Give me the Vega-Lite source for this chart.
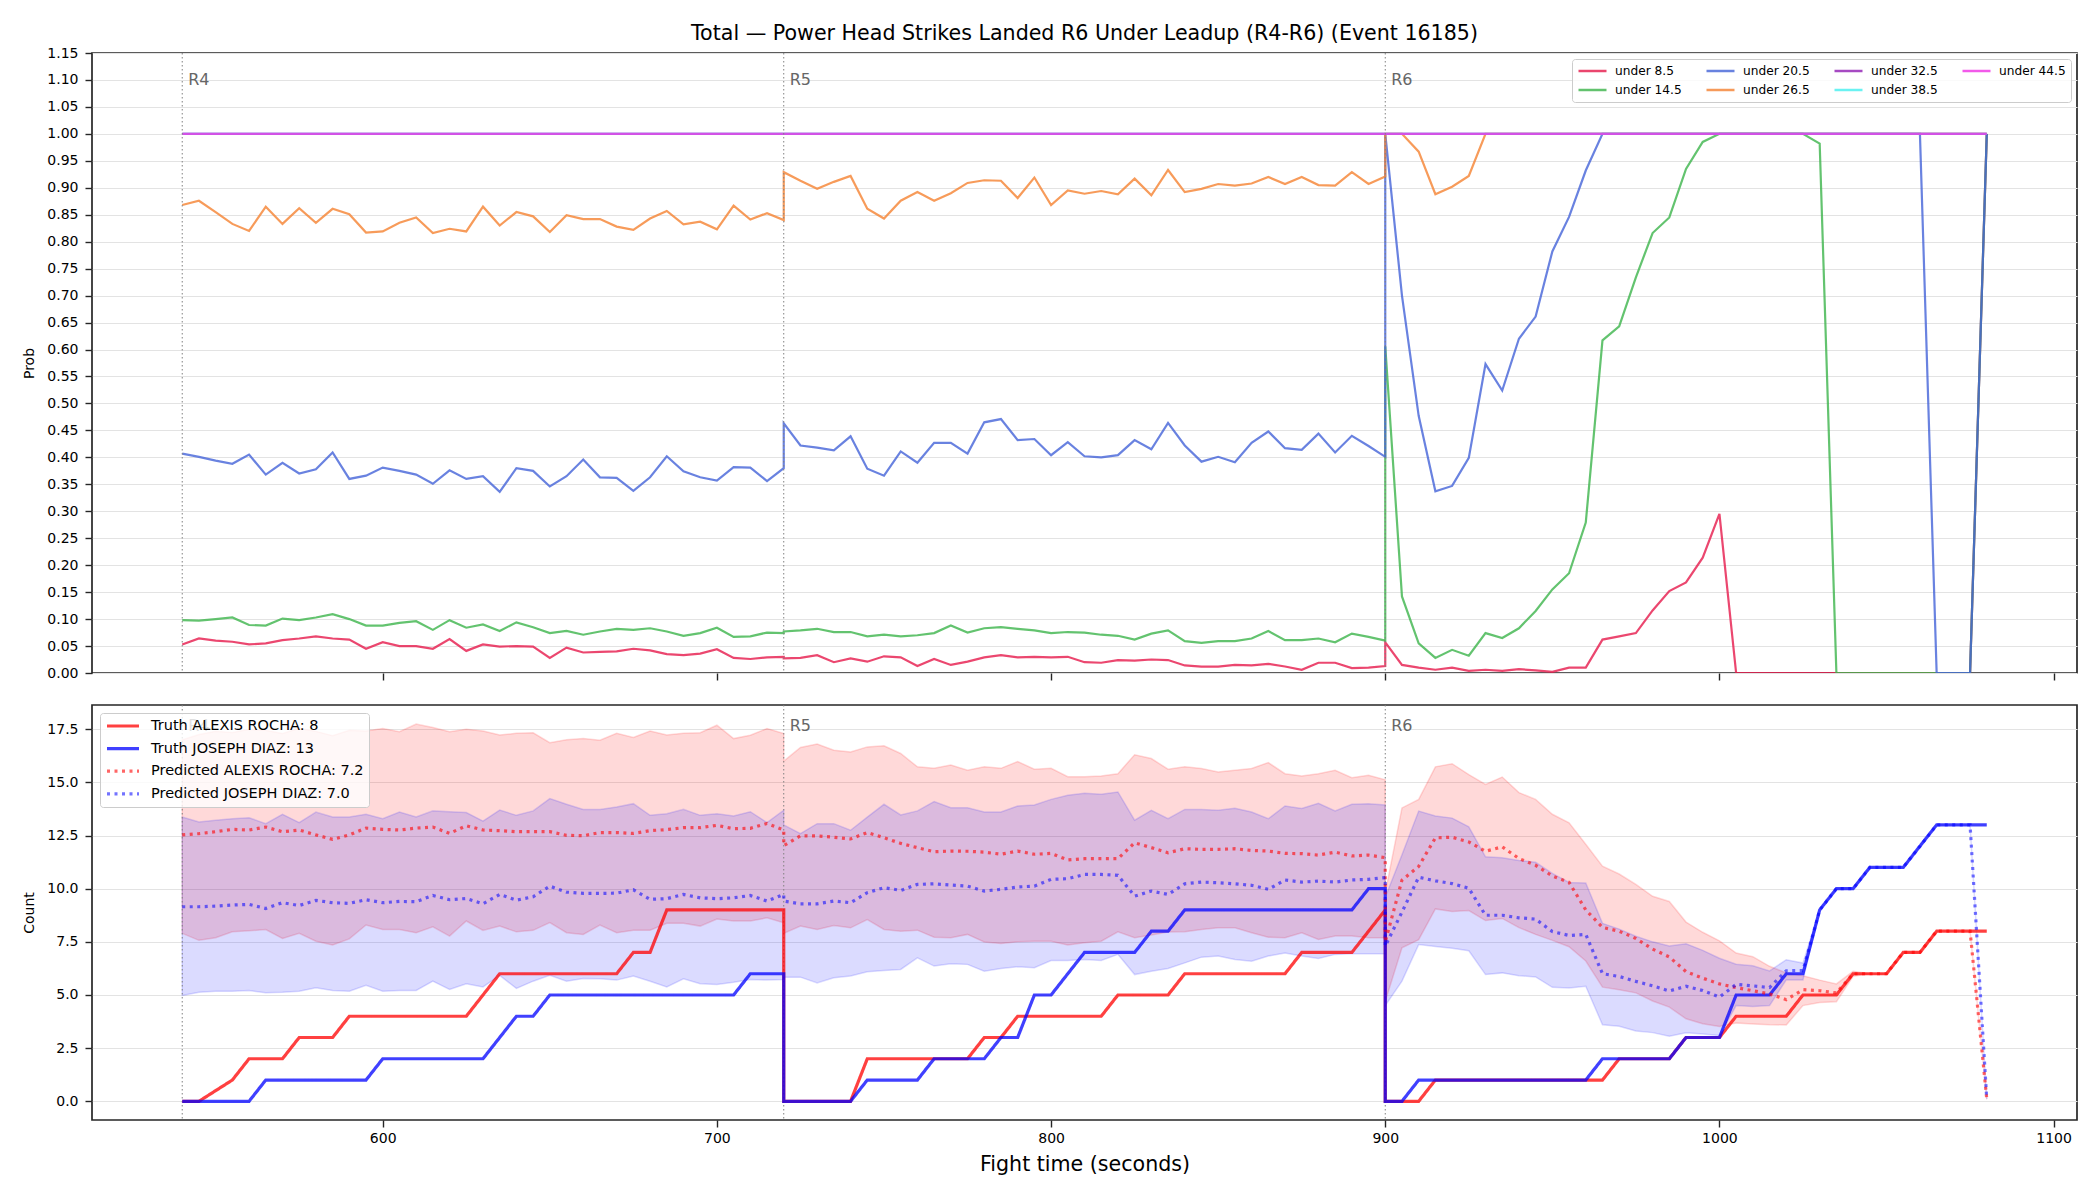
{
  "$schema": "https://vega.github.io/schema/vega-lite/v6.json",
  "background": "white",
  "padding": {"left": 21, "top": 23, "right": 23, "bottom": 20},
  "title": {
    "text": "Total — Power Head Strikes Landed R6 Under Leadup (R4-R6) (Event 16185)",
    "font": "DejaVu Sans", "fontSize": 20.6, "fontWeight": "normal", "color": "#000000",
    "anchor": "middle", "frame": "group", "offset": 1
  },
  "datasets": {
    "rounds": [
      {"t": 540, "r": "R4"},
      {"t": 720, "r": "R5"},
      {"t": 900, "r": "R6"}
    ],
    "prob": [
      {"t":540,"u8":0.053,"u14":0.098,"u20":0.407,"u26":0.868,"u32":1,"u38":1,"u44":1},
      {"t":545,"u8":0.064,"u14":0.097,"u20":0.401,"u26":0.876,"u32":1,"u38":1,"u44":1},
      {"t":550,"u8":0.060,"u14":0.100,"u20":0.394,"u26":0.855,"u32":1,"u38":1,"u44":1},
      {"t":555,"u8":0.058,"u14":0.103,"u20":0.388,"u26":0.833,"u32":1,"u38":1,"u44":1},
      {"t":560,"u8":0.053,"u14":0.089,"u20":0.405,"u26":0.820,"u32":1,"u38":1,"u44":1},
      {"t":565,"u8":0.055,"u14":0.088,"u20":0.368,"u26":0.865,"u32":1,"u38":1,"u44":1},
      {"t":570,"u8":0.061,"u14":0.101,"u20":0.390,"u26":0.833,"u32":1,"u38":1,"u44":1},
      {"t":575,"u8":0.064,"u14":0.098,"u20":0.370,"u26":0.862,"u32":1,"u38":1,"u44":1},
      {"t":580,"u8":0.068,"u14":0.103,"u20":0.378,"u26":0.835,"u32":1,"u38":1,"u44":1},
      {"t":585,"u8":0.064,"u14":0.109,"u20":0.409,"u26":0.861,"u32":1,"u38":1,"u44":1},
      {"t":590,"u8":0.062,"u14":0.100,"u20":0.360,"u26":0.851,"u32":1,"u38":1,"u44":1},
      {"t":595,"u8":0.045,"u14":0.088,"u20":0.366,"u26":0.817,"u32":1,"u38":1,"u44":1},
      {"t":600,"u8":0.057,"u14":0.088,"u20":0.381,"u26":0.819,"u32":1,"u38":1,"u44":1},
      {"t":605,"u8":0.050,"u14":0.093,"u20":0.375,"u26":0.835,"u32":1,"u38":1,"u44":1},
      {"t":610,"u8":0.050,"u14":0.096,"u20":0.368,"u26":0.845,"u32":1,"u38":1,"u44":1},
      {"t":615,"u8":0.045,"u14":0.080,"u20":0.351,"u26":0.816,"u32":1,"u38":1,"u44":1},
      {"t":620,"u8":0.063,"u14":0.098,"u20":0.376,"u26":0.824,"u32":1,"u38":1,"u44":1},
      {"t":625,"u8":0.041,"u14":0.084,"u20":0.360,"u26":0.819,"u32":1,"u38":1,"u44":1},
      {"t":630,"u8":0.053,"u14":0.090,"u20":0.365,"u26":0.865,"u32":1,"u38":1,"u44":1},
      {"t":635,"u8":0.049,"u14":0.078,"u20":0.336,"u26":0.830,"u32":1,"u38":1,"u44":1},
      {"t":640,"u8":0.050,"u14":0.094,"u20":0.380,"u26":0.855,"u32":1,"u38":1,"u44":1},
      {"t":645,"u8":0.049,"u14":0.085,"u20":0.375,"u26":0.847,"u32":1,"u38":1,"u44":1},
      {"t":650,"u8":0.028,"u14":0.074,"u20":0.346,"u26":0.818,"u32":1,"u38":1,"u44":1},
      {"t":655,"u8":0.047,"u14":0.078,"u20":0.365,"u26":0.849,"u32":1,"u38":1,"u44":1},
      {"t":660,"u8":0.038,"u14":0.071,"u20":0.396,"u26":0.842,"u32":1,"u38":1,"u44":1},
      {"t":665,"u8":0.039,"u14":0.077,"u20":0.363,"u26":0.842,"u32":1,"u38":1,"u44":1},
      {"t":670,"u8":0.040,"u14":0.082,"u20":0.362,"u26":0.828,"u32":1,"u38":1,"u44":1},
      {"t":675,"u8":0.045,"u14":0.080,"u20":0.338,"u26":0.822,"u32":1,"u38":1,"u44":1},
      {"t":680,"u8":0.042,"u14":0.083,"u20":0.363,"u26":0.843,"u32":1,"u38":1,"u44":1},
      {"t":685,"u8":0.035,"u14":0.077,"u20":0.402,"u26":0.857,"u32":1,"u38":1,"u44":1},
      {"t":690,"u8":0.033,"u14":0.069,"u20":0.374,"u26":0.832,"u32":1,"u38":1,"u44":1},
      {"t":695,"u8":0.036,"u14":0.074,"u20":0.363,"u26":0.837,"u32":1,"u38":1,"u44":1},
      {"t":700,"u8":0.044,"u14":0.084,"u20":0.357,"u26":0.823,"u32":1,"u38":1,"u44":1},
      {"t":705,"u8":0.028,"u14":0.067,"u20":0.382,"u26":0.867,"u32":1,"u38":1,"u44":1},
      {"t":710,"u8":0.026,"u14":0.068,"u20":0.381,"u26":0.841,"u32":1,"u38":1,"u44":1},
      {"t":715,"u8":0.029,"u14":0.075,"u20":0.356,"u26":0.853,"u32":1,"u38":1,"u44":1},
      {"t":720,"u8":0.030,"u14":0.074,"u20":0.380,"u26":0.840,"u32":1,"u38":1,"u44":1},
      {"t":720,"u8":0.027,"u14":0.077,"u20":0.463,"u26":0.929,"u32":1,"u38":1,"u44":1},
      {"t":725,"u8":0.028,"u14":0.079,"u20":0.422,"u26":0.913,"u32":1,"u38":1,"u44":1},
      {"t":730,"u8":0.033,"u14":0.082,"u20":0.418,"u26":0.898,"u32":1,"u38":1,"u44":1},
      {"t":735,"u8":0.020,"u14":0.076,"u20":0.413,"u26":0.911,"u32":1,"u38":1,"u44":1},
      {"t":740,"u8":0.027,"u14":0.076,"u20":0.439,"u26":0.922,"u32":1,"u38":1,"u44":1},
      {"t":745,"u8":0.021,"u14":0.068,"u20":0.379,"u26":0.861,"u32":1,"u38":1,"u44":1},
      {"t":750,"u8":0.031,"u14":0.071,"u20":0.366,"u26":0.843,"u32":1,"u38":1,"u44":1},
      {"t":755,"u8":0.029,"u14":0.068,"u20":0.411,"u26":0.876,"u32":1,"u38":1,"u44":1},
      {"t":760,"u8":0.013,"u14":0.070,"u20":0.390,"u26":0.892,"u32":1,"u38":1,"u44":1},
      {"t":765,"u8":0.026,"u14":0.074,"u20":0.427,"u26":0.876,"u32":1,"u38":1,"u44":1},
      {"t":770,"u8":0.015,"u14":0.088,"u20":0.427,"u26":0.890,"u32":1,"u38":1,"u44":1},
      {"t":775,"u8":0.021,"u14":0.075,"u20":0.407,"u26":0.909,"u32":1,"u38":1,"u44":1},
      {"t":780,"u8":0.029,"u14":0.083,"u20":0.465,"u26":0.914,"u32":1,"u38":1,"u44":1},
      {"t":785,"u8":0.033,"u14":0.085,"u20":0.471,"u26":0.913,"u32":1,"u38":1,"u44":1},
      {"t":790,"u8":0.029,"u14":0.082,"u20":0.432,"u26":0.881,"u32":1,"u38":1,"u44":1},
      {"t":795,"u8":0.030,"u14":0.079,"u20":0.434,"u26":0.919,"u32":1,"u38":1,"u44":1},
      {"t":800,"u8":0.029,"u14":0.074,"u20":0.404,"u26":0.868,"u32":1,"u38":1,"u44":1},
      {"t":805,"u8":0.030,"u14":0.076,"u20":0.428,"u26":0.895,"u32":1,"u38":1,"u44":1},
      {"t":810,"u8":0.020,"u14":0.075,"u20":0.402,"u26":0.889,"u32":1,"u38":1,"u44":1},
      {"t":815,"u8":0.019,"u14":0.071,"u20":0.400,"u26":0.894,"u32":1,"u38":1,"u44":1},
      {"t":820,"u8":0.024,"u14":0.069,"u20":0.404,"u26":0.888,"u32":1,"u38":1,"u44":1},
      {"t":825,"u8":0.023,"u14":0.062,"u20":0.432,"u26":0.917,"u32":1,"u38":1,"u44":1},
      {"t":830,"u8":0.025,"u14":0.073,"u20":0.415,"u26":0.886,"u32":1,"u38":1,"u44":1},
      {"t":835,"u8":0.024,"u14":0.079,"u20":0.464,"u26":0.933,"u32":1,"u38":1,"u44":1},
      {"t":840,"u8":0.014,"u14":0.059,"u20":0.422,"u26":0.892,"u32":1,"u38":1,"u44":1},
      {"t":845,"u8":0.012,"u14":0.056,"u20":0.392,"u26":0.898,"u32":1,"u38":1,"u44":1},
      {"t":850,"u8":0.012,"u14":0.059,"u20":0.401,"u26":0.907,"u32":1,"u38":1,"u44":1},
      {"t":855,"u8":0.015,"u14":0.059,"u20":0.391,"u26":0.904,"u32":1,"u38":1,"u44":1},
      {"t":860,"u8":0.014,"u14":0.064,"u20":0.427,"u26":0.908,"u32":1,"u38":1,"u44":1},
      {"t":865,"u8":0.017,"u14":0.078,"u20":0.448,"u26":0.920,"u32":1,"u38":1,"u44":1},
      {"t":870,"u8":0.012,"u14":0.061,"u20":0.417,"u26":0.907,"u32":1,"u38":1,"u44":1},
      {"t":875,"u8":0.006,"u14":0.061,"u20":0.414,"u26":0.920,"u32":1,"u38":1,"u44":1},
      {"t":880,"u8":0.019,"u14":0.064,"u20":0.444,"u26":0.905,"u32":1,"u38":1,"u44":1},
      {"t":885,"u8":0.019,"u14":0.057,"u20":0.409,"u26":0.904,"u32":1,"u38":1,"u44":1},
      {"t":890,"u8":0.009,"u14":0.073,"u20":0.440,"u26":0.929,"u32":1,"u38":1,"u44":1},
      {"t":895,"u8":0.010,"u14":0.067,"u20":0.421,"u26":0.907,"u32":1,"u38":1,"u44":1},
      {"t":900,"u8":0.013,"u14":0.060,"u20":0.401,"u26":0.921,"u32":1,"u38":1,"u44":1},
      {"t":900,"u8":0.057,"u14":0.606,"u20":1.000,"u26":1.000,"u32":1,"u38":1,"u44":1},
      {"t":905,"u8":0.015,"u14":0.142,"u20":0.700,"u26":1.000,"u32":1,"u38":1,"u44":1},
      {"t":910,"u8":0.010,"u14":0.055,"u20":0.477,"u26":0.967,"u32":1,"u38":1,"u44":1},
      {"t":915,"u8":0.006,"u14":0.028,"u20":0.337,"u26":0.888,"u32":1,"u38":1,"u44":1},
      {"t":920,"u8":0.010,"u14":0.043,"u20":0.347,"u26":0.902,"u32":1,"u38":1,"u44":1},
      {"t":925,"u8":0.004,"u14":0.032,"u20":0.399,"u26":0.922,"u32":1,"u38":1,"u44":1},
      {"t":930,"u8":0.006,"u14":0.074,"u20":0.573,"u26":1.000,"u32":1,"u38":1,"u44":1},
      {"t":935,"u8":0.004,"u14":0.065,"u20":0.524,"u26":1.000,"u32":1,"u38":1,"u44":1},
      {"t":940,"u8":0.007,"u14":0.083,"u20":0.620,"u26":1.000,"u32":1,"u38":1,"u44":1},
      {"t":945,"u8":0.005,"u14":0.115,"u20":0.661,"u26":1.000,"u32":1,"u38":1,"u44":1},
      {"t":950,"u8":0.002,"u14":0.155,"u20":0.782,"u26":1.000,"u32":1,"u38":1,"u44":1},
      {"t":955,"u8":0.010,"u14":0.185,"u20":0.846,"u26":1.000,"u32":1,"u38":1,"u44":1},
      {"t":960,"u8":0.010,"u14":0.279,"u20":0.932,"u26":1.000,"u32":1,"u38":1,"u44":1},
      {"t":965,"u8":0.062,"u14":0.617,"u20":1.000,"u26":1.000,"u32":1,"u38":1,"u44":1},
      {"t":970,"u8":0.068,"u14":0.643,"u20":1.000,"u26":1.000,"u32":1,"u38":1,"u44":1},
      {"t":975,"u8":0.074,"u14":0.734,"u20":1.000,"u26":1.000,"u32":1,"u38":1,"u44":1},
      {"t":980,"u8":0.116,"u14":0.816,"u20":1.000,"u26":1.000,"u32":1,"u38":1,"u44":1},
      {"t":985,"u8":0.152,"u14":0.845,"u20":1.000,"u26":1.000,"u32":1,"u38":1,"u44":1},
      {"t":990,"u8":0.168,"u14":0.935,"u20":1.000,"u26":1.000,"u32":1,"u38":1,"u44":1},
      {"t":995,"u8":0.214,"u14":0.985,"u20":1.000,"u26":1.000,"u32":1,"u38":1,"u44":1},
      {"t":1000,"u8":0.295,"u14":1.000,"u20":1.000,"u26":1.000,"u32":1,"u38":1,"u44":1},
      {"t":1005,"u8":0,"u14":1.000,"u20":1.000,"u26":1.000,"u32":1,"u38":1,"u44":1},
      {"t":1010,"u8":0,"u14":1.000,"u20":1.000,"u26":1.000,"u32":1,"u38":1,"u44":1},
      {"t":1015,"u8":0,"u14":1.000,"u20":1.000,"u26":1.000,"u32":1,"u38":1,"u44":1},
      {"t":1020,"u8":0,"u14":1.000,"u20":1.000,"u26":1.000,"u32":1,"u38":1,"u44":1},
      {"t":1025,"u8":0,"u14":1.000,"u20":1.000,"u26":1.000,"u32":1,"u38":1,"u44":1},
      {"t":1030,"u8":0,"u14":0.982,"u20":1.000,"u26":1.000,"u32":1,"u38":1,"u44":1},
      {"t":1035,"u8":0,"u14":0,"u20":1.000,"u26":1.000,"u32":1,"u38":1,"u44":1},
      {"t":1040,"u8":0,"u14":0,"u20":1.000,"u26":1.000,"u32":1,"u38":1,"u44":1},
      {"t":1045,"u8":0,"u14":0,"u20":1.000,"u26":1.000,"u32":1,"u38":1,"u44":1},
      {"t":1050,"u8":0,"u14":0,"u20":1.000,"u26":1.000,"u32":1,"u38":1,"u44":1},
      {"t":1055,"u8":0,"u14":0,"u20":1.000,"u26":1.000,"u32":1,"u38":1,"u44":1},
      {"t":1060,"u8":0,"u14":0,"u20":1.000,"u26":1.000,"u32":1,"u38":1,"u44":1},
      {"t":1065,"u8":0,"u14":0,"u20":0,"u26":1.000,"u32":1,"u38":1,"u44":1},
      {"t":1070,"u8":0,"u14":0,"u20":0,"u26":1.000,"u32":1,"u38":1,"u44":1},
      {"t":1075,"u8":0,"u14":0,"u20":0,"u26":1.000,"u32":1,"u38":1,"u44":1},
      {"t":1080,"u8":1,"u14":1,"u20":1,"u26":1.000,"u32":1,"u38":1,"u44":1}
    ],
    "count": [
      {"t":540,"rocha_hi":17.0,"rocha_lo":7.9,"diaz_hi":13.37,"diaz_lo":4.98,"rocha_pred":12.53,"diaz_pred":9.15,"rocha_truth":0,"diaz_truth":0},
      {"t":545,"rocha_hi":17.25,"rocha_lo":7.57,"diaz_hi":13.14,"diaz_lo":5.13,"rocha_pred":12.59,"diaz_pred":9.15,"rocha_truth":0,"diaz_truth":0},
      {"t":550,"rocha_hi":17.4,"rocha_lo":7.69,"diaz_hi":13.22,"diaz_lo":5.18,"rocha_pred":12.68,"diaz_pred":9.18,"rocha_truth":null,"diaz_truth":0},
      {"t":555,"rocha_hi":17.35,"rocha_lo":7.97,"diaz_hi":13.29,"diaz_lo":5.18,"rocha_pred":12.79,"diaz_pred":9.23,"rocha_truth":1,"diaz_truth":0},
      {"t":560,"rocha_hi":17.5,"rocha_lo":8.02,"diaz_hi":13.34,"diaz_lo":5.21,"rocha_pred":12.76,"diaz_pred":9.26,"rocha_truth":2,"diaz_truth":0},
      {"t":565,"rocha_hi":17.45,"rocha_lo":8.08,"diaz_hi":13.06,"diaz_lo":5.1,"rocha_pred":12.9,"diaz_pred":9.07,"rocha_truth":2,"diaz_truth":1},
      {"t":570,"rocha_hi":17.3,"rocha_lo":7.66,"diaz_hi":13.5,"diaz_lo":5.13,"rocha_pred":12.68,"diaz_pred":9.34,"rocha_truth":2,"diaz_truth":1},
      {"t":575,"rocha_hi":17.55,"rocha_lo":7.9,"diaz_hi":13.11,"diaz_lo":5.18,"rocha_pred":12.76,"diaz_pred":9.21,"rocha_truth":3,"diaz_truth":1},
      {"t":580,"rocha_hi":17.4,"rocha_lo":7.53,"diaz_hi":13.6,"diaz_lo":5.34,"rocha_pred":12.53,"diaz_pred":9.45,"rocha_truth":3,"diaz_truth":1},
      {"t":585,"rocha_hi":17.2,"rocha_lo":7.35,"diaz_hi":13.37,"diaz_lo":5.21,"rocha_pred":12.32,"diaz_pred":9.34,"rocha_truth":3,"diaz_truth":1},
      {"t":590,"rocha_hi":17.45,"rocha_lo":7.64,"diaz_hi":13.37,"diaz_lo":5.18,"rocha_pred":12.53,"diaz_pred":9.31,"rocha_truth":4,"diaz_truth":1},
      {"t":595,"rocha_hi":17.42,"rocha_lo":8.29,"diaz_hi":13.5,"diaz_lo":5.46,"rocha_pred":12.85,"diaz_pred":9.48,"rocha_truth":4,"diaz_truth":1},
      {"t":600,"rocha_hi":17.53,"rocha_lo":8.08,"diaz_hi":13.29,"diaz_lo":5.18,"rocha_pred":12.79,"diaz_pred":9.34,"rocha_truth":4,"diaz_truth":2},
      {"t":605,"rocha_hi":17.38,"rocha_lo":8.08,"diaz_hi":13.61,"diaz_lo":5.21,"rocha_pred":12.76,"diaz_pred":9.4,"rocha_truth":4,"diaz_truth":2},
      {"t":610,"rocha_hi":17.74,"rocha_lo":7.93,"diaz_hi":13.37,"diaz_lo":5.21,"rocha_pred":12.85,"diaz_pred":9.39,"rocha_truth":4,"diaz_truth":2},
      {"t":615,"rocha_hi":17.58,"rocha_lo":8.21,"diaz_hi":13.66,"diaz_lo":5.65,"rocha_pred":12.9,"diaz_pred":9.68,"rocha_truth":4,"diaz_truth":2},
      {"t":620,"rocha_hi":17.38,"rocha_lo":7.77,"diaz_hi":13.62,"diaz_lo":5.26,"rocha_pred":12.6,"diaz_pred":9.48,"rocha_truth":4,"diaz_truth":2},
      {"t":625,"rocha_hi":17.5,"rocha_lo":8.48,"diaz_hi":13.58,"diaz_lo":5.53,"rocha_pred":12.96,"diaz_pred":9.54,"rocha_truth":4,"diaz_truth":2},
      {"t":630,"rocha_hi":17.42,"rocha_lo":8.04,"diaz_hi":13.18,"diaz_lo":5.38,"rocha_pred":12.76,"diaz_pred":9.29,"rocha_truth":5,"diaz_truth":2},
      {"t":635,"rocha_hi":17.23,"rocha_lo":8.24,"diaz_hi":13.7,"diaz_lo":5.92,"rocha_pred":12.73,"diaz_pred":9.73,"rocha_truth":6,"diaz_truth":3},
      {"t":640,"rocha_hi":17.31,"rocha_lo":7.97,"diaz_hi":13.45,"diaz_lo":5.31,"rocha_pred":12.68,"diaz_pred":9.46,"rocha_truth":6,"diaz_truth":4},
      {"t":645,"rocha_hi":17.33,"rocha_lo":8.04,"diaz_hi":13.66,"diaz_lo":5.65,"rocha_pred":12.68,"diaz_pred":9.62,"rocha_truth":6,"diaz_truth":4},
      {"t":650,"rocha_hi":16.87,"rocha_lo":8.41,"diaz_hi":14.24,"diaz_lo":5.93,"rocha_pred":12.68,"diaz_pred":10.12,"rocha_truth":6,"diaz_truth":5},
      {"t":655,"rocha_hi":17.0,"rocha_lo":7.93,"diaz_hi":13.97,"diaz_lo":5.65,"rocha_pred":12.51,"diaz_pred":9.84,"rocha_truth":6,"diaz_truth":5},
      {"t":660,"rocha_hi":17.06,"rocha_lo":7.85,"diaz_hi":13.73,"diaz_lo":5.78,"rocha_pred":12.49,"diaz_pred":9.78,"rocha_truth":6,"diaz_truth":5},
      {"t":665,"rocha_hi":16.98,"rocha_lo":8.29,"diaz_hi":13.73,"diaz_lo":5.76,"rocha_pred":12.64,"diaz_pred":9.78,"rocha_truth":6,"diaz_truth":5},
      {"t":670,"rocha_hi":17.31,"rocha_lo":7.93,"diaz_hi":13.84,"diaz_lo":5.7,"rocha_pred":12.64,"diaz_pred":9.79,"rocha_truth":6,"diaz_truth":5},
      {"t":675,"rocha_hi":17.11,"rocha_lo":8.05,"diaz_hi":14.0,"diaz_lo":5.89,"rocha_pred":12.6,"diaz_pred":9.95,"rocha_truth":7,"diaz_truth":5},
      {"t":680,"rocha_hi":17.42,"rocha_lo":8.05,"diaz_hi":13.45,"diaz_lo":5.65,"rocha_pred":12.73,"diaz_pred":9.5,"rocha_truth":7,"diaz_truth":5},
      {"t":685,"rocha_hi":17.23,"rocha_lo":8.37,"diaz_hi":13.53,"diaz_lo":5.38,"rocha_pred":12.78,"diaz_pred":9.53,"rocha_truth":9,"diaz_truth":5},
      {"t":690,"rocha_hi":17.31,"rocha_lo":8.37,"diaz_hi":13.73,"diaz_lo":5.76,"rocha_pred":12.87,"diaz_pred":9.73,"rocha_truth":9,"diaz_truth":5},
      {"t":695,"rocha_hi":17.34,"rocha_lo":8.24,"diaz_hi":13.45,"diaz_lo":5.53,"rocha_pred":12.87,"diaz_pred":9.57,"rocha_truth":9,"diaz_truth":5},
      {"t":700,"rocha_hi":17.69,"rocha_lo":8.57,"diaz_hi":13.53,"diaz_lo":5.49,"rocha_pred":12.98,"diaz_pred":9.53,"rocha_truth":9,"diaz_truth":5},
      {"t":705,"rocha_hi":17.06,"rocha_lo":8.48,"diaz_hi":13.42,"diaz_lo":5.6,"rocha_pred":12.82,"diaz_pred":9.57,"rocha_truth":9,"diaz_truth":5},
      {"t":710,"rocha_hi":17.22,"rocha_lo":8.48,"diaz_hi":13.62,"diaz_lo":5.73,"rocha_pred":12.84,"diaz_pred":9.68,"rocha_truth":9,"diaz_truth":6},
      {"t":715,"rocha_hi":17.53,"rocha_lo":8.63,"diaz_hi":13.11,"diaz_lo":5.7,"rocha_pred":13.07,"diaz_pred":9.42,"rocha_truth":9,"diaz_truth":6},
      {"t":720,"rocha_hi":17.3,"rocha_lo":8.4,"diaz_hi":13.69,"diaz_lo":5.73,"rocha_pred":12.76,"diaz_pred":9.73,"rocha_truth":9,"diaz_truth":6},
      {"t":720,"rocha_hi":16.0,"rocha_lo":7.9,"diaz_hi":13.0,"diaz_lo":5.84,"rocha_pred":12.02,"diaz_pred":9.42,"rocha_truth":0,"diaz_truth":0},
      {"t":725,"rocha_hi":16.64,"rocha_lo":8.24,"diaz_hi":12.59,"diaz_lo":5.84,"rocha_pred":12.49,"diaz_pred":9.29,"rocha_truth":0,"diaz_truth":0},
      {"t":730,"rocha_hi":16.8,"rocha_lo":8.08,"diaz_hi":13.06,"diaz_lo":5.57,"rocha_pred":12.48,"diaz_pred":9.29,"rocha_truth":0,"diaz_truth":0},
      {"t":735,"rocha_hi":16.51,"rocha_lo":8.27,"diaz_hi":13.06,"diaz_lo":5.81,"rocha_pred":12.42,"diaz_pred":9.42,"rocha_truth":0,"diaz_truth":0},
      {"t":740,"rocha_hi":16.43,"rocha_lo":8.16,"diaz_hi":12.75,"diaz_lo":5.89,"rocha_pred":12.34,"diaz_pred":9.34,"rocha_truth":0,"diaz_truth":0},
      {"t":745,"rocha_hi":16.67,"rocha_lo":8.55,"diaz_hi":13.37,"diaz_lo":6.09,"rocha_pred":12.64,"diaz_pred":9.81,"rocha_truth":2,"diaz_truth":1},
      {"t":750,"rocha_hi":16.72,"rocha_lo":8.08,"diaz_hi":13.97,"diaz_lo":6.15,"rocha_pred":12.4,"diaz_pred":10.05,"rocha_truth":2,"diaz_truth":1},
      {"t":755,"rocha_hi":16.36,"rocha_lo":8.0,"diaz_hi":13.47,"diaz_lo":6.2,"rocha_pred":12.13,"diaz_pred":9.92,"rocha_truth":2,"diaz_truth":1},
      {"t":760,"rocha_hi":15.73,"rocha_lo":8.05,"diaz_hi":13.66,"diaz_lo":6.75,"rocha_pred":11.93,"diaz_pred":10.2,"rocha_truth":2,"diaz_truth":1},
      {"t":765,"rocha_hi":15.66,"rocha_lo":7.72,"diaz_hi":14.1,"diaz_lo":6.36,"rocha_pred":11.74,"diaz_pred":10.23,"rocha_truth":2,"diaz_truth":2},
      {"t":770,"rocha_hi":15.82,"rocha_lo":7.69,"diaz_hi":13.81,"diaz_lo":6.47,"rocha_pred":11.77,"diaz_pred":10.17,"rocha_truth":2,"diaz_truth":2},
      {"t":775,"rocha_hi":15.57,"rocha_lo":7.85,"diaz_hi":13.81,"diaz_lo":6.44,"rocha_pred":11.76,"diaz_pred":10.12,"rocha_truth":2,"diaz_truth":2},
      {"t":780,"rocha_hi":15.73,"rocha_lo":7.49,"diaz_hi":13.61,"diaz_lo":6.12,"rocha_pred":11.72,"diaz_pred":9.89,"rocha_truth":3,"diaz_truth":2},
      {"t":785,"rocha_hi":15.66,"rocha_lo":7.42,"diaz_hi":13.61,"diaz_lo":6.25,"rocha_pred":11.62,"diaz_pred":9.97,"rocha_truth":3,"diaz_truth":3},
      {"t":790,"rocha_hi":15.98,"rocha_lo":7.5,"diaz_hi":13.89,"diaz_lo":6.33,"rocha_pred":11.77,"diaz_pred":10.08,"rocha_truth":4,"diaz_truth":3},
      {"t":795,"rocha_hi":15.62,"rocha_lo":7.53,"diaz_hi":13.94,"diaz_lo":6.28,"rocha_pred":11.62,"diaz_pred":10.12,"rocha_truth":4,"diaz_truth":5},
      {"t":800,"rocha_hi":15.66,"rocha_lo":7.53,"diaz_hi":14.2,"diaz_lo":6.62,"rocha_pred":11.66,"diaz_pred":10.44,"rocha_truth":4,"diaz_truth":5},
      {"t":805,"rocha_hi":15.27,"rocha_lo":7.35,"diaz_hi":14.39,"diaz_lo":6.62,"rocha_pred":11.35,"diaz_pred":10.47,"rocha_truth":4,"diaz_truth":6},
      {"t":810,"rocha_hi":15.27,"rocha_lo":7.46,"diaz_hi":14.49,"diaz_lo":6.67,"rocha_pred":11.41,"diaz_pred":10.67,"rocha_truth":4,"diaz_truth":7},
      {"t":815,"rocha_hi":15.3,"rocha_lo":7.53,"diaz_hi":14.44,"diaz_lo":6.62,"rocha_pred":11.41,"diaz_pred":10.67,"rocha_truth":4,"diaz_truth":7},
      {"t":820,"rocha_hi":15.41,"rocha_lo":7.97,"diaz_hi":14.55,"diaz_lo":6.91,"rocha_pred":11.41,"diaz_pred":10.63,"rocha_truth":5,"diaz_truth":7},
      {"t":825,"rocha_hi":16.3,"rocha_lo":7.69,"diaz_hi":13.22,"diaz_lo":5.96,"rocha_pred":12.16,"diaz_pred":9.65,"rocha_truth":5,"diaz_truth":7},
      {"t":830,"rocha_hi":16.12,"rocha_lo":7.82,"diaz_hi":13.69,"diaz_lo":6.12,"rocha_pred":11.93,"diaz_pred":9.89,"rocha_truth":5,"diaz_truth":8},
      {"t":835,"rocha_hi":15.62,"rocha_lo":7.96,"diaz_hi":13.29,"diaz_lo":6.25,"rocha_pred":11.69,"diaz_pred":9.73,"rocha_truth":5,"diaz_truth":8},
      {"t":840,"rocha_hi":15.73,"rocha_lo":7.97,"diaz_hi":13.73,"diaz_lo":6.51,"rocha_pred":11.88,"diaz_pred":10.23,"rocha_truth":6,"diaz_truth":9},
      {"t":845,"rocha_hi":15.65,"rocha_lo":8.08,"diaz_hi":13.73,"diaz_lo":6.78,"rocha_pred":11.85,"diaz_pred":10.31,"rocha_truth":6,"diaz_truth":9},
      {"t":850,"rocha_hi":15.49,"rocha_lo":8.16,"diaz_hi":13.69,"diaz_lo":6.83,"rocha_pred":11.85,"diaz_pred":10.28,"rocha_truth":6,"diaz_truth":9},
      {"t":855,"rocha_hi":15.57,"rocha_lo":8.16,"diaz_hi":13.78,"diaz_lo":6.67,"rocha_pred":11.88,"diaz_pred":10.23,"rocha_truth":6,"diaz_truth":9},
      {"t":860,"rocha_hi":15.65,"rocha_lo":7.93,"diaz_hi":13.61,"diaz_lo":6.59,"rocha_pred":11.8,"diaz_pred":10.16,"rocha_truth":6,"diaz_truth":9},
      {"t":865,"rocha_hi":15.93,"rocha_lo":7.72,"diaz_hi":13.29,"diaz_lo":6.83,"rocha_pred":11.77,"diaz_pred":9.97,"rocha_truth":6,"diaz_truth":9},
      {"t":870,"rocha_hi":15.41,"rocha_lo":7.69,"diaz_hi":13.89,"diaz_lo":6.98,"rocha_pred":11.66,"diaz_pred":10.41,"rocha_truth":6,"diaz_truth":9},
      {"t":875,"rocha_hi":15.3,"rocha_lo":7.93,"diaz_hi":13.77,"diaz_lo":6.83,"rocha_pred":11.65,"diaz_pred":10.31,"rocha_truth":7,"diaz_truth":9},
      {"t":880,"rocha_hi":15.41,"rocha_lo":7.61,"diaz_hi":14.02,"diaz_lo":6.72,"rocha_pred":11.58,"diaz_pred":10.36,"rocha_truth":7,"diaz_truth":9},
      {"t":885,"rocha_hi":15.57,"rocha_lo":7.77,"diaz_hi":13.66,"diaz_lo":6.91,"rocha_pred":11.72,"diaz_pred":10.31,"rocha_truth":7,"diaz_truth":9},
      {"t":890,"rocha_hi":15.22,"rocha_lo":7.77,"diaz_hi":13.97,"diaz_lo":6.94,"rocha_pred":11.54,"diaz_pred":10.41,"rocha_truth":7,"diaz_truth":9},
      {"t":895,"rocha_hi":15.34,"rocha_lo":7.69,"diaz_hi":14.0,"diaz_lo":6.94,"rocha_pred":11.58,"diaz_pred":10.44,"rocha_truth":8,"diaz_truth":10},
      {"t":900,"rocha_hi":15.12,"rocha_lo":7.69,"diaz_hi":13.94,"diaz_lo":6.94,"rocha_pred":11.46,"diaz_pred":10.52,"rocha_truth":9,"diaz_truth":10},
      {"t":900,"rocha_hi":9.8,"rocha_lo":4.7,"diaz_hi":9.6,"diaz_lo":4.5,"rocha_pred":7.5,"diaz_pred":7.3,"rocha_truth":0,"diaz_truth":0},
      {"t":905,"rocha_hi":13.8,"rocha_lo":7.22,"diaz_hi":11.6,"diaz_lo":5.65,"rocha_pred":10.4,"diaz_pred":8.9,"rocha_truth":0,"diaz_truth":0},
      {"t":910,"rocha_hi":14.2,"rocha_lo":7.6,"diaz_hi":13.65,"diaz_lo":7.37,"rocha_pred":11.05,"diaz_pred":10.54,"rocha_truth":0,"diaz_truth":1},
      {"t":915,"rocha_hi":15.73,"rocha_lo":9.05,"diaz_hi":13.42,"diaz_lo":7.28,"rocha_pred":12.39,"diaz_pred":10.37,"rocha_truth":1,"diaz_truth":1},
      {"t":920,"rocha_hi":15.88,"rocha_lo":8.93,"diaz_hi":13.32,"diaz_lo":7.2,"rocha_pred":12.42,"diaz_pred":10.24,"rocha_truth":1,"diaz_truth":1},
      {"t":925,"rocha_hi":15.37,"rocha_lo":8.97,"diaz_hi":12.91,"diaz_lo":7.08,"rocha_pred":12.2,"diaz_pred":10.02,"rocha_truth":1,"diaz_truth":1},
      {"t":930,"rocha_hi":14.9,"rocha_lo":8.5,"diaz_hi":11.5,"diaz_lo":5.96,"rocha_pred":11.76,"diaz_pred":8.75,"rocha_truth":1,"diaz_truth":1},
      {"t":935,"rocha_hi":15.25,"rocha_lo":8.6,"diaz_hi":11.45,"diaz_lo":6.04,"rocha_pred":11.97,"diaz_pred":8.75,"rocha_truth":1,"diaz_truth":1},
      {"t":940,"rocha_hi":14.52,"rocha_lo":8.17,"diaz_hi":11.33,"diaz_lo":5.91,"rocha_pred":11.42,"diaz_pred":8.63,"rocha_truth":1,"diaz_truth":1},
      {"t":945,"rocha_hi":14.2,"rocha_lo":7.85,"diaz_hi":11.24,"diaz_lo":5.85,"rocha_pred":11.1,"diaz_pred":8.57,"rocha_truth":1,"diaz_truth":1},
      {"t":950,"rocha_hi":13.5,"rocha_lo":7.57,"diaz_hi":10.72,"diaz_lo":5.36,"rocha_pred":10.6,"diaz_pred":7.98,"rocha_truth":1,"diaz_truth":1},
      {"t":955,"rocha_hi":13.1,"rocha_lo":7.27,"diaz_hi":10.29,"diaz_lo":5.33,"rocha_pred":10.3,"diaz_pred":7.8,"rocha_truth":1,"diaz_truth":1},
      {"t":960,"rocha_hi":12.09,"rocha_lo":6.6,"diaz_hi":10.27,"diaz_lo":5.41,"rocha_pred":9.0,"diaz_pred":7.85,"rocha_truth":1,"diaz_truth":1},
      {"t":965,"rocha_hi":11.06,"rocha_lo":5.37,"diaz_hi":8.37,"diaz_lo":3.6,"rocha_pred":8.18,"diaz_pred":6.0,"rocha_truth":1,"diaz_truth":2},
      {"t":970,"rocha_hi":10.69,"rocha_lo":5.25,"diaz_hi":8.1,"diaz_lo":3.53,"rocha_pred":8.0,"diaz_pred":5.87,"rocha_truth":2,"diaz_truth":2},
      {"t":975,"rocha_hi":10.2,"rocha_lo":5.1,"diaz_hi":7.76,"diaz_lo":3.31,"rocha_pred":7.66,"diaz_pred":5.64,"rocha_truth":2,"diaz_truth":2},
      {"t":980,"rocha_hi":9.64,"rocha_lo":4.72,"diaz_hi":7.5,"diaz_lo":3.23,"rocha_pred":7.16,"diaz_pred":5.43,"rocha_truth":2,"diaz_truth":2},
      {"t":985,"rocha_hi":9.4,"rocha_lo":4.43,"diaz_hi":7.31,"diaz_lo":3.06,"rocha_pred":6.79,"diaz_pred":5.19,"rocha_truth":2,"diaz_truth":2},
      {"t":990,"rocha_hi":8.43,"rocha_lo":3.88,"diaz_hi":7.41,"diaz_lo":3.22,"rocha_pred":6.1,"diaz_pred":5.41,"rocha_truth":3,"diaz_truth":3},
      {"t":995,"rocha_hi":7.95,"rocha_lo":3.65,"diaz_hi":7.1,"diaz_lo":3.16,"rocha_pred":5.79,"diaz_pred":5.21,"rocha_truth":3,"diaz_truth":3},
      {"t":1000,"rocha_hi":7.55,"rocha_lo":3.52,"diaz_hi":6.73,"diaz_lo":3.1,"rocha_pred":5.52,"diaz_pred":4.9,"rocha_truth":3,"diaz_truth":3},
      {"t":1005,"rocha_hi":6.97,"rocha_lo":3.68,"diaz_hi":6.45,"diaz_lo":4.5,"rocha_pred":5.35,"diaz_pred":5.5,"rocha_truth":4,"diaz_truth":5},
      {"t":1010,"rocha_hi":6.8,"rocha_lo":3.64,"diaz_hi":6.37,"diaz_lo":4.46,"rocha_pred":5.2,"diaz_pred":5.43,"rocha_truth":4,"diaz_truth":5},
      {"t":1015,"rocha_hi":6.35,"rocha_lo":3.6,"diaz_hi":6.13,"diaz_lo":4.5,"rocha_pred":5.05,"diaz_pred":5.35,"rocha_truth":4,"diaz_truth":5},
      {"t":1020,"rocha_hi":6.04,"rocha_lo":3.59,"diaz_hi":6.66,"diaz_lo":5.71,"rocha_pred":4.78,"diaz_pred":6.14,"rocha_truth":4,"diaz_truth":6},
      {"t":1025,"rocha_hi":5.9,"rocha_lo":4.5,"diaz_hi":6.5,"diaz_lo":5.71,"rocha_pred":5.25,"diaz_pred":6.15,"rocha_truth":5,"diaz_truth":6},
      {"t":1030,"rocha_hi":5.7,"rocha_lo":4.65,"diaz_hi":9,"diaz_lo":9,"rocha_pred":5.2,"diaz_pred":9,"rocha_truth":5,"diaz_truth":9},
      {"t":1035,"rocha_hi":5.52,"rocha_lo":4.68,"diaz_hi":10,"diaz_lo":10,"rocha_pred":5.1,"diaz_pred":10,"rocha_truth":5,"diaz_truth":10},
      {"t":1040,"rocha_hi":6.12,"rocha_lo":5.88,"diaz_hi":10,"diaz_lo":10,"rocha_pred":6.0,"diaz_pred":10,"rocha_truth":6,"diaz_truth":10},
      {"t":1045,"rocha_hi":6,"rocha_lo":6,"diaz_hi":11,"diaz_lo":11,"rocha_pred":6,"diaz_pred":11,"rocha_truth":6,"diaz_truth":11},
      {"t":1050,"rocha_hi":6,"rocha_lo":6,"diaz_hi":11,"diaz_lo":11,"rocha_pred":6,"diaz_pred":11,"rocha_truth":6,"diaz_truth":11},
      {"t":1055,"rocha_hi":7,"rocha_lo":7,"diaz_hi":11,"diaz_lo":11,"rocha_pred":7,"diaz_pred":11,"rocha_truth":7,"diaz_truth":11},
      {"t":1060,"rocha_hi":7,"rocha_lo":7,"diaz_hi":12,"diaz_lo":12,"rocha_pred":7,"diaz_pred":12,"rocha_truth":7,"diaz_truth":12},
      {"t":1065,"rocha_hi":8,"rocha_lo":8,"diaz_hi":13,"diaz_lo":13,"rocha_pred":8,"diaz_pred":13,"rocha_truth":8,"diaz_truth":13},
      {"t":1070,"rocha_hi":8,"rocha_lo":8,"diaz_hi":13,"diaz_lo":13,"rocha_pred":8,"diaz_pred":13,"rocha_truth":8,"diaz_truth":13},
      {"t":1075,"rocha_hi":8,"rocha_lo":8,"diaz_hi":13,"diaz_lo":13,"rocha_pred":8,"diaz_pred":13,"rocha_truth":8,"diaz_truth":13},
      {"t":1080,"rocha_hi":0.1,"rocha_lo":0.1,"diaz_hi":0.1,"diaz_lo":0.1,"rocha_pred":0.1,"diaz_pred":0.1,"rocha_truth":8,"diaz_truth":13}
    ]
  },
  "spacing": 32,
  "bounds": "flush",
  "resolve": {
    "scale": {"x": "shared", "y": "independent", "color": "independent", "strokeDash": "independent"},
    "legend": {"color": "independent", "strokeDash": "independent"}
  },
  "vconcat": [
    {
      "width": 1985,
      "height": 620,
      "layer": [
        {
          "data": {"name": "prob"},
          "transform": [{"fold": ["u8", "u14", "u20", "u26", "u32", "u38", "u44"], "as": ["line", "p"]}],
          "mark": {"type": "line", "strokeWidth": 2.2, "opacity": 0.8, "clip": true},
          "encoding": {
            "x": {
              "field": "t", "type": "quantitative", "title": null,
              "scale": {"domain": [513, 1107], "nice": false, "zero": false},
              "axis": {"labels": false, "title": null, "grid": false, "values": [600, 700, 800, 900, 1000, 1100]}
            },
            "y": {
              "field": "p", "type": "quantitative", "title": "Prob",
              "scale": {"domain": [0, 1.15], "nice": false, "zero": false},
              "axis": {
                "title": "Prob", "format": ".2f", "labelOverlap": false, "labelFlush": false, "tickCount": 40,
                "values": [0, 0.05, 0.1, 0.15, 0.2, 0.25, 0.3, 0.35, 0.4, 0.45, 0.5, 0.55, 0.6, 0.65, 0.7, 0.75, 0.8, 0.85, 0.9, 0.95, 1.0, 1.05, 1.1, 1.15]
              }
            },
            "color": {
              "field": "line", "type": "nominal",
              "scale": {
                "domain": ["u8", "u14", "u20", "u26", "u32", "u38", "u44"],
                "range": ["#e6194b", "#3cb44b", "#4363d8", "#f58231", "#911eb4", "#46f0f0", "#f032e6"]
              },
              "legend": {
                "title": null, "orient": "top-right", "offset": 6, "columns": 4, "gridAlign": "all",
                "symbolType": "stroke", "symbolSize": 784, "symbolStrokeWidth": 2.5, "symbolOpacity": 0.8,
                "labelFontSize": 12.2, "labelOffset": 7, "columnPadding": 23, "rowPadding": 5, "clipHeight": 14,
                "padding": 5, "fillColor": "rgba(255,255,255,0.8)", "strokeColor": "#cccccc", "cornerRadius": 3,
                "labelExpr": "'under ' + slice(datum.label, 1) + '.5'"
              }
            }
          }
        },
        {
          "data": {"name": "rounds"},
          "mark": {"type": "rule", "color": "#808080", "strokeWidth": 1, "strokeDash": [1.5, 2.5]},
          "encoding": {"x": {"field": "t", "type": "quantitative", "title": null}}
        },
        {
          "data": {"name": "rounds"},
          "mark": {"type": "text", "align": "left", "baseline": "middle", "dx": 6, "fontSize": 16, "color": "#666666"},
          "encoding": {
            "x": {"field": "t", "type": "quantitative", "title": null},
            "y": {"datum": 1.10},
            "text": {"field": "r"}
          }
        }
      ]
    },
    {
      "width": 1985,
      "height": 415,
      "layer": [
        {
          "data": {"name": "count"},
          "mark": {"type": "area", "fill": "#ff0000", "fillOpacity": 0.15, "stroke": "#ff0000", "strokeOpacity": 0.15, "strokeWidth": 1.5},
          "encoding": {
            "x": {
              "field": "t", "type": "quantitative", "title": "Fight time (seconds)",
              "scale": {"domain": [513, 1107], "nice": false, "zero": false},
              "axis": {"title": "Fight time (seconds)", "titleFontSize": 20.6, "titlePadding": 9, "labelPadding": 4, "grid": false, "format": "d", "values": [600, 700, 800, 900, 1000, 1100]}
            },
            "y": {
              "field": "rocha_lo", "type": "quantitative", "title": "Count",
              "scale": {"domain": [-0.88, 18.64], "nice": false, "zero": false},
              "axis": {"title": "Count", "format": ".1f", "labelOverlap": false, "tickCount": 20, "values": [0, 2.5, 5, 7.5, 10, 12.5, 15, 17.5]}
            },
            "y2": {"field": "rocha_hi"}
          }
        },
        {
          "data": {"name": "count"},
          "mark": {"type": "area", "fill": "#0000ff", "fillOpacity": 0.14, "stroke": "#0000ff", "strokeOpacity": 0.14, "strokeWidth": 1.5},
          "encoding": {
            "x": {"field": "t", "type": "quantitative", "title": "Fight time (seconds)"},
            "y": {"field": "diaz_lo", "type": "quantitative", "title": "Count"},
            "y2": {"field": "diaz_hi"}
          }
        },
        {
          "data": {"name": "rounds"},
          "mark": {"type": "rule", "color": "#808080", "strokeWidth": 1, "strokeDash": [1.5, 2.5]},
          "encoding": {"x": {"field": "t", "type": "quantitative", "title": "Fight time (seconds)"}}
        },
        {
          "data": {"name": "rounds"},
          "mark": {"type": "text", "align": "left", "baseline": "middle", "dx": 6, "fontSize": 16, "color": "#666666"},
          "encoding": {
            "x": {"field": "t", "type": "quantitative", "title": "Fight time (seconds)"},
            "y": {"datum": 17.63},
            "text": {"field": "r"}
          }
        },
        {
          "data": {"name": "count"},
          "transform": [{"fold": ["rocha_truth", "diaz_truth", "rocha_pred", "diaz_pred"], "as": ["series", "v"]}],
          "mark": {"type": "line", "strokeWidth": 3.2, "invalid": "filter"},
          "encoding": {
            "x": {"field": "t", "type": "quantitative", "title": "Fight time (seconds)"},
            "y": {"field": "v", "type": "quantitative", "title": "Count"},
            "color": {
              "field": "series", "type": "nominal",
              "scale": {
                "domain": ["rocha_truth", "diaz_truth", "rocha_pred", "diaz_pred"],
                "range": ["rgba(255,0,0,0.75)", "rgba(0,0,255,0.75)", "rgba(255,0,0,0.6)", "rgba(0,0,255,0.55)"]
              },
              "legend": {
                "title": null, "orient": "top-left", "offset": 8,
                "symbolType": "stroke", "symbolSize": 1024, "symbolStrokeWidth": 3.2,
                "labelFontSize": 14.5, "labelOffset": 10, "rowPadding": 6.6, "clipHeight": 16,
                "padding": 5, "fillColor": "rgba(255,255,255,0.8)", "strokeColor": "#cccccc", "cornerRadius": 3,
                "labelExpr": "datum.label == 'rocha_truth' ? 'Truth ALEXIS ROCHA: 8' : datum.label == 'diaz_truth' ? 'Truth JOSEPH DIAZ: 13' : datum.label == 'rocha_pred' ? 'Predicted ALEXIS ROCHA: 7.2' : 'Predicted JOSEPH DIAZ: 7.0'"
              }
            },
            "strokeDash": {
              "field": "series", "type": "nominal",
              "scale": {
                "domain": ["rocha_truth", "diaz_truth", "rocha_pred", "diaz_pred"],
                "range": [[1, 0], [1, 0], [3, 4.5], [3, 4.5]]
              },
              "legend": {
                "title": null, "orient": "top-left", "offset": 8,
                "symbolType": "stroke", "symbolSize": 1024, "symbolStrokeWidth": 3.2,
                "labelFontSize": 14.5, "labelOffset": 10, "rowPadding": 6.6, "clipHeight": 16,
                "padding": 5, "fillColor": "rgba(255,255,255,0.8)", "strokeColor": "#cccccc", "cornerRadius": 3,
                "labelExpr": "datum.label == 'rocha_truth' ? 'Truth ALEXIS ROCHA: 8' : datum.label == 'diaz_truth' ? 'Truth JOSEPH DIAZ: 13' : datum.label == 'rocha_pred' ? 'Predicted ALEXIS ROCHA: 7.2' : 'Predicted JOSEPH DIAZ: 7.0'"
              }
            }
          }
        }
      ]
    }
  ],
  "config": {
    "font": "DejaVu Sans",
    "view": {"stroke": "#262626", "strokeWidth": 1.7},
    "axis": {
      "domain": false,
      "labelFont": "DejaVu Sans", "labelFontSize": 14, "labelColor": "#000000", "labelPadding": 7,
      "titleFont": "DejaVu Sans", "titleFontSize": 14, "titleFontWeight": "normal", "titleColor": "#000000", "titlePadding": 10,
      "tickColor": "#262626", "tickWidth": 1.4, "tickSize": 7,
      "gridColor": "#e3e3e3", "gridWidth": 1
    },
    "legend": {"labelFont": "DejaVu Sans", "labelColor": "#000000", "labelLimit": 400}
  }
}
